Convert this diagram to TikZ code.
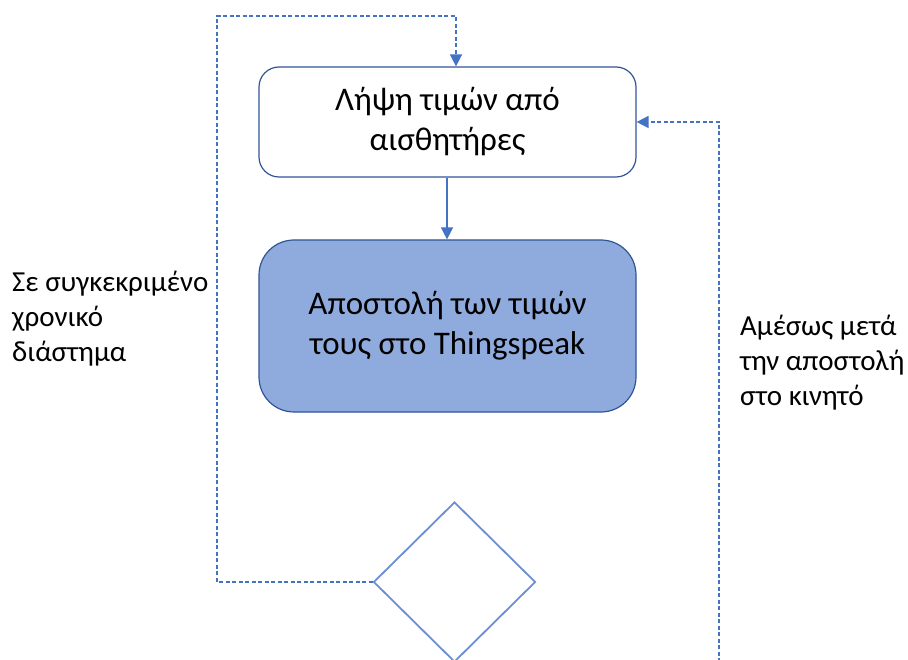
\documentclass[tikz,border=0pt]{standalone}
\usepackage{fontspec}
\setmainfont{Carlito}
\usetikzlibrary{shapes.geometric,arrows.meta}
\definecolor{boxline}{HTML}{2F5597}
\definecolor{arrowblue}{HTML}{4472C4}
\definecolor{fillblue}{HTML}{8FAADC}
\definecolor{diamline}{HTML}{6B8FD2}
\tikzset{
  procbox/.style={draw=boxline, line width=1.2pt, rounded corners=20pt, minimum width=377pt, minimum height=110pt, align=center, font=\fontsize{33}{40}\selectfont, inner sep=0pt},
  sendbox/.style={procbox, fill=fillblue, rounded corners=35pt, minimum height=172pt},
  decbox/.style={draw=diamline, line width=1.8pt, diamond, minimum width=162pt, minimum height=160pt, inner sep=0pt},
  flow/.style={draw=arrowblue, line width=1.5pt, -{Triangle[length=12pt,width=12pt]}},
  loopline/.style={flow, dash pattern=on 4pt off 2.5pt},
  lbl/.style={align=left, anchor=north west, font=\fontsize{29}{35}\selectfont, inner sep=0pt}
}
\begin{document}
\begin{tikzpicture}[x=1pt,y=-1pt]
\useasboundingbox (0,0) rectangle (908,660);
\node[procbox] (get) at (447.5,122) {Λήψη τιμών από\\αισθητήρες};
\node[sendbox] (send) at (447.5,326) {Αποστολή των τιμών\\τους στο Thingspeak};
\node[decbox] (dec) at (454.5,582) {};
\draw[flow] (get.south -| 447,0) -- (send.north -| 447,0);
\coordinate (tl) at (217,16);
\coordinate (br) at (719,662);
\draw[loopline] (dec.west) -| (tl) -| ([xshift=8.5pt]get.north);
\draw[loopline] (br) |- (get.east);
\node[lbl] (l1) at (12,271) {Σε συγκεκριμένο\\χρονικό\\διάστημα};
\node[lbl] (l2) at (740,315) {Αμέσως μετά\\την αποστολή\\στο κινητό};
\end{tikzpicture}
\end{document}
